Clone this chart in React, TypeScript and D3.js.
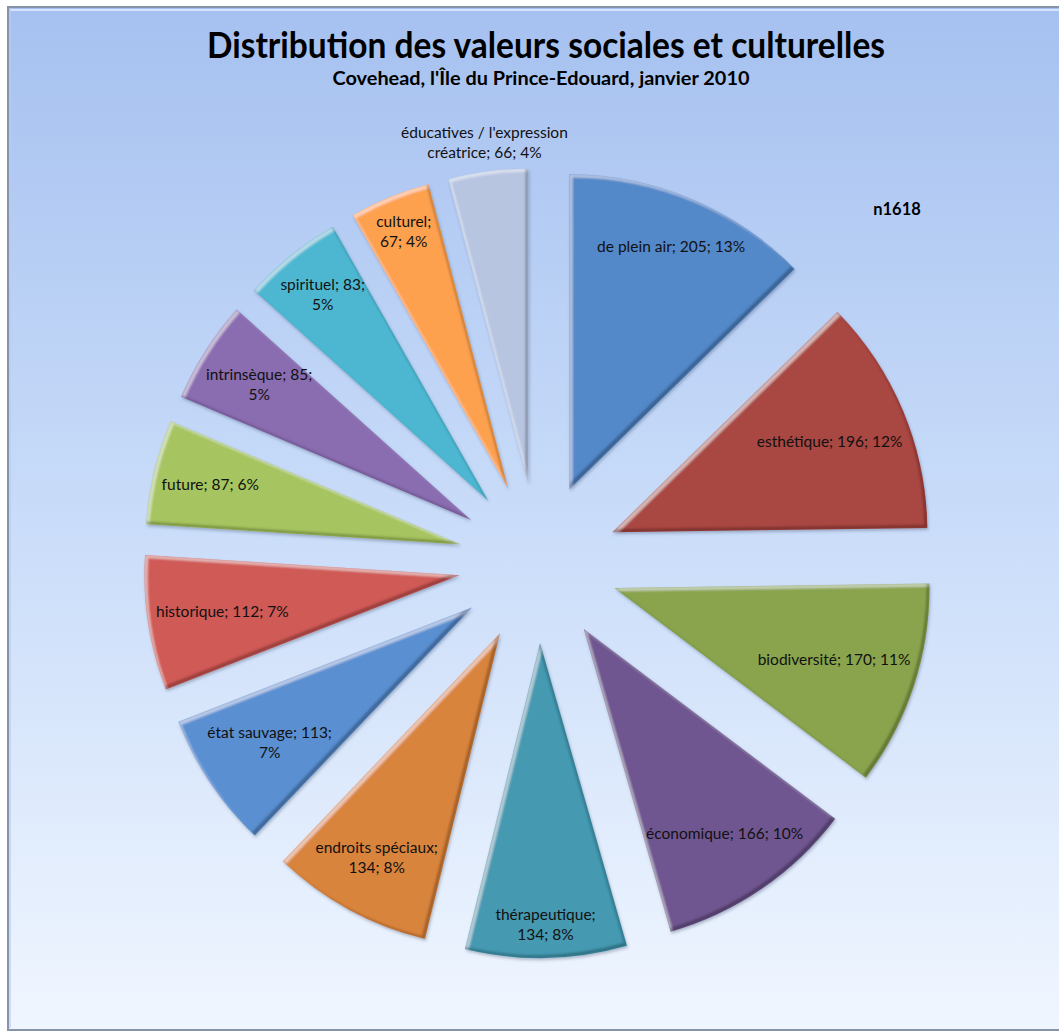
import React, { useMemo } from "react";
import * as d3 from "d3";

// ---- data ----
const categories = [
  "de plein air",
  "esthétique",
  "biodiversité",
  "économique",
  "thérapeutique",
  "endroits spéciaux",
  "état sauvage",
  "historique",
  "future",
  "intrinsèque",
  "spirituel",
  "culturel",
  "éducatives / l'expression créatrice",
];
const values = [205, 196, 170, 166, 134, 134, 113, 112, 87, 85, 83, 67, 66];
const percentLabels = ["13%", "12%", "11%", "10%", "8%", "8%", "7%", "7%", "6%", "5%", "5%", "4%", "4%"];
// number of words on the first label line (0 = single line)
const wrapWords = [0, 0, 0, 0, 1, 2, 3, 0, 0, 2, 2, 1, 3];

const titleText = "Distribution des valeurs sociales et culturelles";
const subtitleText = "Covehead, l'Île du Prince-Edouard, janvier 2010";
const totalText = "n1618";

// ---- styles ----
const colors = [
  "#5388c9", "#a94643", "#89a44e", "#705790", "#4499b1", "#d9843e",
  "#5a8fd1", "#d05a56", "#a6c45f", "#8a6cb0", "#4db7d2", "#fda14f", "#b7c5e1",
];

const W = 1059;
const H = 1032;
const CX = 538.5;
const CY = 563;
const R = 315;
const EXPLODE = 80;
const FONT = "Lato, 'Open Sans', sans-serif";
const LABEL_SIZE = 15.5;
const LINE_H = 20;

function measure(text: string, font: string): number {
  const c = document.createElement("canvas").getContext("2d");
  if (!c) return text.length * 7.5;
  c.font = font;
  return c.measureText(text).width;
}

export default function App() {
  const pie = d3.pie<number>().sort(null).value((d) => d).startAngle(0).endAngle(2 * Math.PI);
  const arcs = pie(values);
  const arcGen = d3.arc<d3.PieArcDatum<number>>().innerRadius(0).outerRadius(R);

  const slices = useMemo(() => {
    return arcs.map((a, i) => {
      const mid = (a.startAngle + a.endAngle) / 2;
      const ux = Math.sin(mid);
      const uy = -Math.cos(mid);
      const tx = CX + EXPLODE * ux;
      const ty = CY + EXPLODE * uy;
      const full = `${categories[i]}; ${values[i]}; ${percentLabels[i]}`;
      const words = full.split(" ");
      const lines =
        wrapWords[i] > 0
          ? [words.slice(0, wrapWords[i]).join(" "), words.slice(wrapWords[i]).join(" ")]
          : [full];
      const w = Math.max(...lines.map((l) => measure(l, `${LABEL_SIZE}px ${FONT}`)));
      const h = lines.length * LINE_H;
      const pad = 8;
      const ax = Math.sign(ux) * (w / 2);
      const by = Math.sign(uy) * (h / 2);
      const p = ux * ax + uy * by;
      const t = -p + Math.sqrt(p * p - (ax * ax + by * by) + (R - pad) * (R - pad));
      const half = (a.endAngle - a.startAngle) / 2;
      const chord = 2 * t * Math.sin(half);
      let lx: number, ly: number;
      if (w > chord * 1.6) {
        const dist = R + h / 2 + 8;
        lx = tx + ux * dist;
        ly = ty + uy * dist;
      } else {
        lx = tx + ux * t;
        ly = ty + uy * t;
      }
      return { a, i, tx, ty, lines, lx, ly, h };
    });
  }, []);

  return (
    <svg
      width={W}
      height={H}
      viewBox={`0 0 ${W} ${H}`}
      style={{ position: "absolute", left: 0, top: 0, display: "block" }}
    >
      <defs>
        <linearGradient id="bg" x1="0" y1="0" x2="0" y2="1">
          <stop offset="0" stopColor="#a6c1f0" />
          <stop offset="0.5" stopColor="#c9dcf9" />
          <stop offset="1" stopColor="#f0f6ff" />
        </linearGradient>
        <filter id="bevel" x="-10%" y="-10%" width="120%" height="120%">
          <feOffset in="SourceAlpha" dx="3" dy="3" result="offA" />
          <feComposite in="SourceAlpha" in2="offA" operator="out" result="hiEdge" />
          <feGaussianBlur in="hiEdge" stdDeviation="1.3" result="hiBlur" />
          <feFlood floodColor="#ffffff" floodOpacity="0.45" result="white" />
          <feComposite in="white" in2="hiBlur" operator="in" result="hi0" />
          <feComposite in="hi0" in2="SourceAlpha" operator="in" result="hi" />
          <feOffset in="SourceAlpha" dx="-3" dy="-3" result="offB" />
          <feComposite in="SourceAlpha" in2="offB" operator="out" result="shEdge" />
          <feGaussianBlur in="shEdge" stdDeviation="1.3" result="shBlur" />
          <feFlood floodColor="#000000" floodOpacity="0.5" result="black" />
          <feComposite in="black" in2="shBlur" operator="in" result="sh0" />
          <feComposite in="sh0" in2="SourceAlpha" operator="in" result="sh" />
          <feGaussianBlur in="SourceAlpha" stdDeviation="1.5" result="dropBlur" />
          <feOffset in="dropBlur" dx="1" dy="2" result="dropOff" />
          <feFlood floodColor="#3a4a66" floodOpacity="0.35" result="dropCol" />
          <feComposite in="dropCol" in2="dropOff" operator="in" result="drop" />
          <feMerge>
            <feMergeNode in="drop" />
            <feMergeNode in="SourceGraphic" />
            <feMergeNode in="hi" />
            <feMergeNode in="sh" />
          </feMerge>
        </filter>
      </defs>

      <rect x={0} y={0} width={W} height={H} fill="#ffffff" />
      <rect x={8} y={7} width={W + 10} height={H - 9} fill="url(#bg)" stroke="#8693a8" strokeWidth={2} />
      <line x1={10} y1={10} x2={W} y2={10} stroke="#dbe7ff" strokeWidth={2} opacity={0.9} />
      <line x1={10} y1={10} x2={10} y2={H - 4} stroke="#b8cbee" strokeWidth={1.5} opacity={0.8} />

      <text
        x={546}
        y={58}
        textAnchor="middle"
        fontFamily={FONT}
        fontWeight={700}
        fontSize={37}
        textLength={678}
        lengthAdjust="spacingAndGlyphs"
        fill="#000"
      >
        {titleText}
      </text>
      <text
        x={541}
        y={85}
        textAnchor="middle"
        fontFamily={FONT}
        fontWeight={700}
        fontSize={18}
        textLength={417}
        lengthAdjust="spacingAndGlyphs"
        fill="#000"
      >
        {subtitleText}
      </text>

      <g>
        {slices.map((s) => (
          <path
            key={s.i}
            d={arcGen(s.a) || ""}
            transform={`translate(${s.tx},${s.ty})`}
            fill={colors[s.i]}
            filter="url(#bevel)"
          />
        ))}
      </g>

      <g fontFamily={FONT} fontSize={LABEL_SIZE} fill="#111">
        {slices.map((s) => (
          <text key={s.i} x={s.lx} y={s.ly - s.h / 2} textAnchor="middle">
            {s.lines.map((l, k) => (
              <tspan key={k} x={s.lx} dy={k === 0 ? LINE_H * 0.74 : LINE_H}>
                {l}
              </tspan>
            ))}
          </text>
        ))}
      </g>

      <text x={897} y={215} textAnchor="middle" fontFamily={FONT} fontWeight={700} fontSize={16.5} fill="#000">
        {totalText}
      </text>
    </svg>
  );
}
